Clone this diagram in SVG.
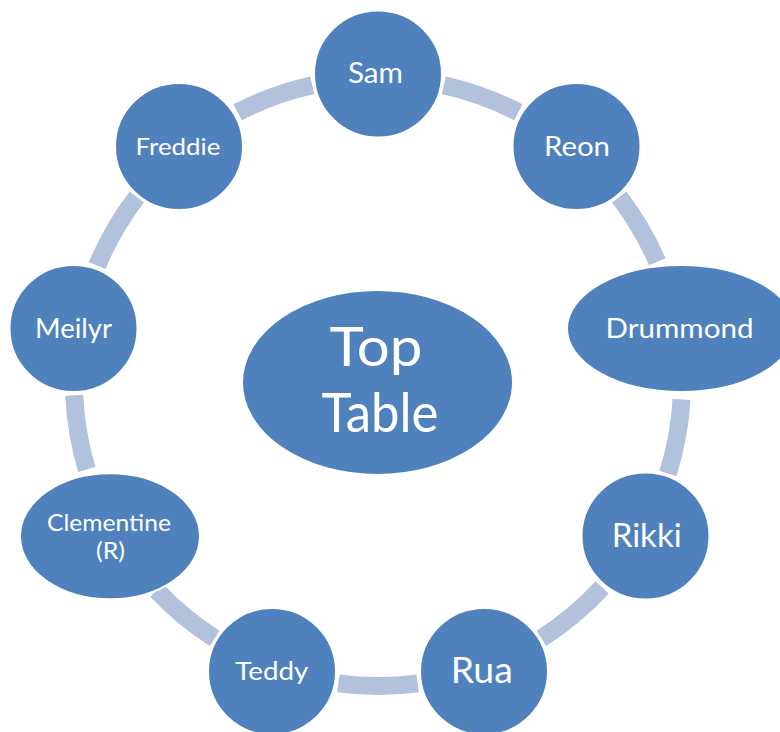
<svg xmlns="http://www.w3.org/2000/svg" width="780" height="732" viewBox="0 0 780 732">
<style>
.node{fill:#4F81BD;stroke:#FFFFFF;stroke-width:2}
.conn{fill:none;stroke:#B2C1DC;stroke-width:18;stroke-linecap:butt}
.lbl{font-family:Lato,"Open Sans","Liberation Sans",sans-serif;fill:#FFFFFF;text-anchor:middle}
</style>
<rect width="780" height="732" fill="#FFFFFF"/>
<g id="connectors">
<path class="conn" d="M443.80,85.21 A304,304 0 0 1 518.37,112.35"/>
<path class="conn" d="M619.18,196.94 A304,304 0 0 1 657.21,261.75"/>
<path class="conn" d="M681.50,399.50 A304,304 0 0 1 667.93,473.42"/>
<path class="conn" d="M602.13,587.38 A304,304 0 0 1 541.34,638.39"/>
<path class="conn" d="M417.68,683.40 A304,304 0 0 1 338.32,683.40"/>
<path class="conn" d="M214.66,638.39 A304,304 0 0 1 156.76,590.49"/>
<path class="conn" d="M86.82,469.36 A304,304 0 0 1 74.29,395.26"/>
<path class="conn" d="M97.14,265.67 A304,304 0 0 1 136.82,196.94"/>
<path class="conn" d="M237.63,112.35 A304,304 0 0 1 312.20,85.21"/>
</g>
<g id="center">
<ellipse class="node" cx="377.5" cy="382.5" rx="135.5" ry="92.5"/>
<text class="lbl" x="376" y="365.7" font-size="54" textLength="93" lengthAdjust="spacingAndGlyphs">Top</text>
<text class="lbl" x="380" y="431.7" font-size="54" textLength="117" lengthAdjust="spacingAndGlyphs">Table</text>
</g>
<g id="sam">
<ellipse class="node" cx="378" cy="74" rx="64" ry="63.5"/>
<text class="lbl" x="375.5" y="83.3" font-size="28" textLength="55" lengthAdjust="spacingAndGlyphs">Sam</text>
</g>
<g id="reon">
<ellipse class="node" cx="576.5" cy="146.5" rx="64" ry="63.5"/>
<text class="lbl" x="577" y="156" font-size="26" textLength="66" lengthAdjust="spacingAndGlyphs">Reon</text>
</g>
<g id="drummond">
<ellipse class="node" cx="681" cy="328.5" rx="114" ry="63.5"/>
<text class="lbl" x="679.5" y="337.7" font-size="27" textLength="148" lengthAdjust="spacingAndGlyphs">Drummond</text>
</g>
<g id="rikki">
<ellipse class="node" cx="645.5" cy="536" rx="64" ry="63.5"/>
<text class="lbl" x="646.7" y="547.3" font-size="32.5" textLength="70" lengthAdjust="spacingAndGlyphs">Rikki</text>
</g>
<g id="rua">
<ellipse class="node" cx="484" cy="671.5" rx="64" ry="63.5"/>
<text class="lbl" x="481.7" y="683.3" font-size="36" textLength="62" lengthAdjust="spacingAndGlyphs">Rua</text>
</g>
<g id="teddy">
<ellipse class="node" cx="272" cy="671.5" rx="64" ry="63.5"/>
<text class="lbl" x="271.8" y="680" font-size="25.5" textLength="73" lengthAdjust="spacingAndGlyphs">Teddy</text>
</g>
<g id="clementine">
<ellipse class="node" cx="110" cy="536.3" rx="90" ry="63"/>
<text class="lbl" x="109" y="530.7" font-size="23.5" textLength="124" lengthAdjust="spacingAndGlyphs">Clementine</text>
<text class="lbl" x="110.5" y="559.3" font-size="23.5" textLength="29" lengthAdjust="spacingAndGlyphs">(R)</text>
</g>
<g id="meilyr">
<ellipse class="node" cx="73.5" cy="328.5" rx="64" ry="63.5"/>
<text class="lbl" x="73.5" y="338.3" font-size="26" textLength="77" lengthAdjust="spacingAndGlyphs">Meilyr</text>
</g>
<g id="freddie">
<ellipse class="node" cx="179" cy="146.5" rx="64" ry="63.5"/>
<text class="lbl" x="178" y="154.8" font-size="23" textLength="85" lengthAdjust="spacingAndGlyphs">Freddie</text>
</g>
</svg>
